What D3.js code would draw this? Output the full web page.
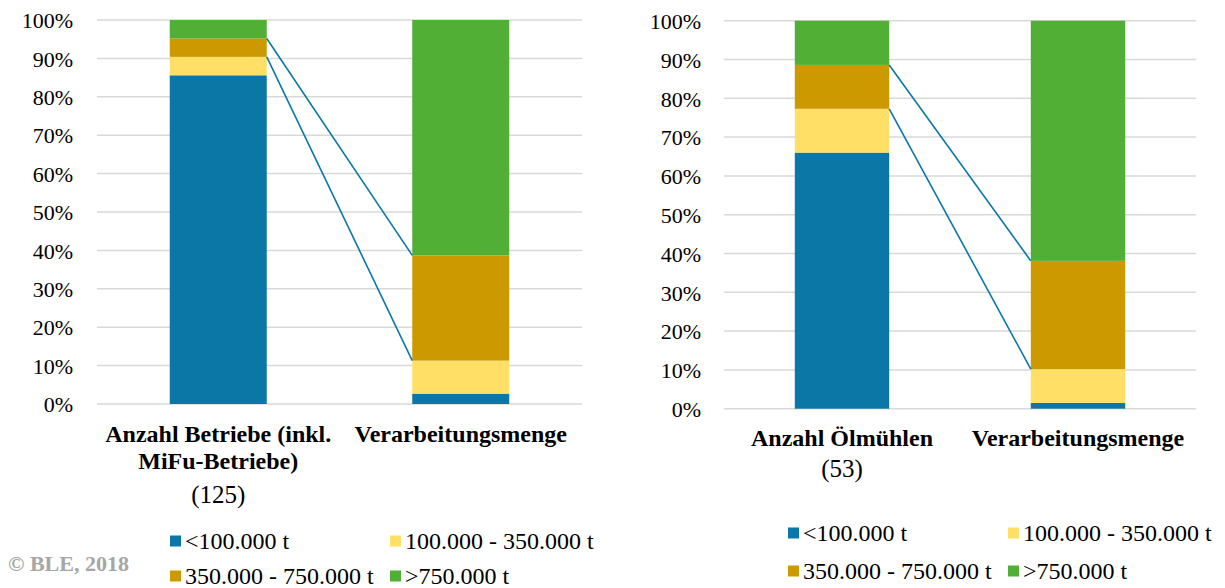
<!DOCTYPE html>
<html>
<head>
<meta charset="utf-8">
<script src="https://cdn.jsdelivr.net/npm/d3@7"></script>
<style>
  body { margin: 0; background: #fff; }
  svg text { font-family: 'Liberation Serif', 'Times New Roman', Tinos, 'DejaVu Serif', serif; }
</style>
</head>
<body>
<svg id="chart" width="1225" height="588"></svg>
<script>
// size classes (t = Tonnen Verarbeitungsmenge)
const classes = ['<100.000 t', '100.000 - 350.000 t', '350.000 - 750.000 t', '>750.000 t'];
const colors = ['#0A77A6', '#FFDF66', '#CC9900', '#52AF36'];

// left panel: all businesses, shares in %
const leftCats = ['betriebe', 'menge'];
const leftBetriebe = [85.6, 4.8, 4.8, 4.8];
const leftMenge = [2.7, 8.6, 27.4, 61.3];

// right panel: oil mills, shares in %
const rightCats = ['oel', 'menge'];
const rightOel = [66.0, 11.3, 11.3, 11.4];
const rightMenge = [1.5, 8.7, 27.9, 61.9];

const yTicks = [0, 10, 20, 30, 40, 50, 60, 70, 80, 90, 100];

const serif = "'Liberation Serif', 'Times New Roman', Tinos, 'DejaVu Serif', serif";
const svg = d3.select('#chart');

const drawPanel = (opt) => {
    const g = svg.append('g');
    const y = d3.scaleLinear().domain([0, 100]).range([opt.y0, opt.y1]);
    const x = d3.scaleBand().domain(opt.cats).range([opt.x0, opt.x1])
        .paddingInner(0.6).paddingOuter(0.3);

    // gridlines
    g.selectAll('line.grid').data(yTicks).enter().append('line')
        .attr('x1', opt.x0).attr('x2', opt.x1)
        .attr('y1', d => y(d)).attr('y2', d => y(d))
        .attr('stroke', '#d9d9d9').attr('stroke-width', 1.5);

    const axis = d3.axisLeft(y).tickValues(yTicks).tickFormat(d => d + '%').tickSize(0).tickPadding(0);
    const ag = g.append('g').attr('transform', `translate(${opt.labelX},0)`).call(axis)
        .attr('font-family', serif);
    ag.select('.domain').remove();
    ag.selectAll('text').attr('font-size', 22).attr('fill', '#000').attr('dy', '0.35em');

    // stacked bars
    opt.cats.forEach((c, ci) => {
        const vals = opt.series[ci];
        const stack = d3.cumsum(vals);
        g.selectAll(null).data(vals).enter().append('rect')
            .attr('x', x(c))
            .attr('width', x.bandwidth())
            .attr('y', (d, i) => y(stack[i]))
            .attr('height', (d, i) => y(stack[i] - d) - y(stack[i]))
            .attr('fill', (d, i) => colors[i]);
    });

    // connector lines (series lines)
    const a = d3.cumsum(opt.series[0]);
    const b = d3.cumsum(opt.series[1]);
    [2, 1].forEach(k => {
        g.append('line')
            .attr('x1', x(opt.cats[0]) + x.bandwidth()).attr('y1', y(a[k]))
            .attr('x2', x(opt.cats[1])).attr('y2', y(b[k]))
            .attr('stroke', '#0A77A6').attr('stroke-width', 1.6);
    });

    // category labels
    opt.catLabels.forEach((lines, ci) => {
        const cx = x(opt.cats[ci]) + x.bandwidth() / 2;
        lines.forEach(l => {
            g.append('text')
                .attr('x', cx).attr('y', l.y).attr('dy', '0.35em')
                .attr('text-anchor', 'middle')
                .attr('font-family', serif)
                .attr('font-size', l.bold ? 24 : 25)
                .attr('font-weight', l.bold ? 'bold' : 'normal')
                .text(l.t);
        });
    });

    // legend
    const lg = g.append('g');
    classes.forEach((c, i) => {
        const col = i % 2, row = Math.floor(i / 2);
        const lx = opt.legX[col], ly = opt.legY[row];
        lg.append('rect').attr('x', lx).attr('y', ly - 5.5)
            .attr('width', 11).attr('height', 11).attr('fill', colors[i]);
        lg.append('text').attr('x', lx + 15).attr('y', ly).attr('dy', '0.35em')
            .attr('font-family', serif)
            .attr('font-size', 24).text(c);
    });
};

drawPanel({
    cats: leftCats,
    series: [leftBetriebe, leftMenge],
    x0: 97, x1: 582, y0: 404, y1: 20, labelX: 73,
    catLabels: [
        [{t: 'Anzahl Betriebe (inkl.', y: 434, bold: true},
         {t: 'MiFu-Betriebe)', y: 461, bold: true},
         {t: '(125)', y: 494, bold: false}],
        [{t: 'Verarbeitungsmenge', y: 434, bold: true}]
    ],
    legX: [170, 390], legY: [541, 576]
});

drawPanel({
    cats: rightCats,
    series: [rightOel, rightMenge],
    x0: 724, x1: 1196, y0: 408.7, y1: 20.7, labelX: 701,
    catLabels: [
        [{t: 'Anzahl Ölmühlen', y: 438, bold: true},
         {t: '(53)', y: 468, bold: false}],
        [{t: 'Verarbeitungsmenge', y: 438, bold: true}]
    ],
    legX: [788, 1008], legY: [533, 571]
});

svg.append('text')
    .attr('x', 8).attr('y', 563).attr('dy', '0.35em')
    .attr('font-family', serif)
    .attr('font-size', 22).attr('font-weight', 'bold').attr('fill', '#a6a6a6')
    .text('© BLE, 2018');
</script>
</body>
</html>
